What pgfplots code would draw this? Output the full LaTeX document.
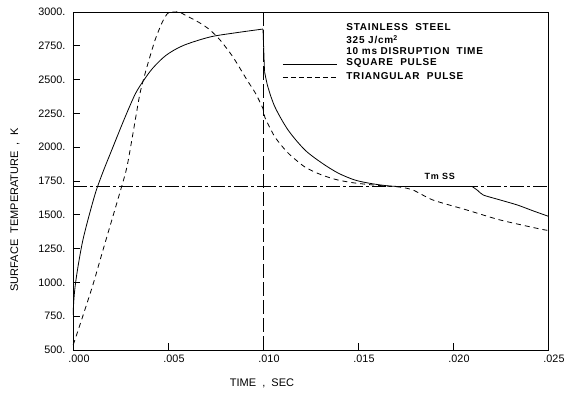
\documentclass[border=0pt]{standalone}
\usepackage{fontspec}
\setmainfont{Liberation Sans}
\newfontfamily\lgd[LetterSpace=8]{Liberation Sans}
\usepackage{pgfplots}
\pgfplotsset{compat=1.18}
\begin{document}
\begin{tikzpicture}
\begin{axis}[
 at={(0,0)}, anchor=south west,
 scale only axis, width=475pt, height=338pt,
 xmin=0, xmax=0.025, ymin=500, ymax=3000,
 xtick={0,0.005,0.01,0.015,0.02,0.025},
 xticklabels={.000,.005,.010,.015,.020,.025},
 scaled x ticks=false,
 ytick={500,750,1000,1250,1500,1750,2000,2250,2500,2750,3000},
 yticklabels={500.,750.,1000.,1250.,1500.,1750.,2000.,2250.,2500.,2750.,3000.},
 tick align=inside,
 xtick pos=bottom, ytick pos=left,
 major tick length=7pt,
 tick style={line width=0.8pt, black},
 tick label style={font=\fontsize{10.8}{12}\selectfont},
 xticklabel style={anchor=north, xshift=6pt, yshift=-1pt},
 yticklabel style={xshift=-4pt},
 axis line style={line width=0.9pt},
 clip=true,
]
% square pulse
\addplot[black, line width=0.8pt, smooth, tension=0.5] coordinates {
(0,760) (0.00005,880) (0.00012,980) (0.00026,1114) (0.0005,1300) (0.0008,1470)
(0.0012,1670) (0.0016,1825) (0.0021,2000) (0.0025,2140) (0.0029,2275)
(0.0033,2400) (0.0037,2490) (0.0042,2585) (0.0049,2680) (0.0058,2752)
(0.0072,2815) (0.0085,2845) (0.0100,2874)
};
\addplot[black, line width=0.8pt] coordinates {(0.0100,2874) (0.01008,2560)};
\addplot[black, line width=0.8pt, smooth, tension=0.5] coordinates {
(0.01008,2560) (0.01026,2445) (0.01063,2297) (0.01132,2127) (0.01221,1979)
(0.0131,1883) (0.01395,1809) (0.01484,1757) (0.01574,1730) (0.01658,1714)
(0.0170,1710)
};
\addplot[black, line width=0.8pt] coordinates {(0.0170,1710) (0.0210,1710)};
\addplot[black, line width=0.8pt, smooth, tension=0.4] coordinates {
(0.0210,1710) (0.0213,1680) (0.0216,1646) (0.0225,1609) (0.0234,1572)
(0.0242,1530) (0.0250,1490)
};
% triangular pulse
\addplot[black, line width=0.8pt, dash pattern=on 5pt off 4pt, smooth, tension=0.4] coordinates {
(0,540) (0.0001,574) (0.001,960) (0.00158,1240) (0.0025,1680) (0.00284,1854)
(0.00316,2105) (0.00353,2401) (0.00389,2593) (0.00432,2793) (0.00468,2919)
(0.00495,2985) (0.0052,3008) (0.0055,3005) (0.0058,2985) (0.00668,2919)
(0.00721,2867) (0.00774,2793) (0.00842,2667) (0.00916,2497) (0.0096,2400)
(0.0100,2285) (0.0101,2220) (0.01063,2075) (0.01132,1957) (0.01221,1853)
(0.0131,1794) (0.01395,1757) (0.01484,1735) (0.0160,1718) (0.0172,1705)
(0.0179,1683) (0.01895,1609) (0.02074,1535) (0.02247,1462) (0.02458,1395)
(0.0250,1385)
};
% Tm line
\addplot[black, line width=0.7pt, dash pattern=on 14pt off 3pt on 3pt off 3pt] coordinates {(0,1710) (0.025,1710)};
% disruption time
\addplot[black, line width=0.9pt, dash pattern=on 14pt off 4pt] coordinates {(0.010,500) (0.010,3000)};
% legend
\addplot[black, line width=0.8pt] coordinates {(0.01105,2612) (0.01389,2612)};
\addplot[black, line width=0.8pt, dash pattern=on 5pt off 3pt] coordinates {(0.01105,2517) (0.01389,2517)};
\node[anchor=west, font=\lgd\bfseries\fontsize{10}{11}\selectfont] at (axis cs:0.0142,2890) {STAINLESS\ \ STEEL};
\node[anchor=west, font=\lgd\bfseries\fontsize{10}{11}\selectfont] at (axis cs:0.0142,2795) {325 J/cm\textsuperscript{2}};
\node[anchor=west, font=\lgd\bfseries\fontsize{10}{11}\selectfont] at (axis cs:0.0142,2710) {10 ms DISRUPTION\ \ TIME};
\node[anchor=west, font=\lgd\bfseries\fontsize{10}{11}\selectfont] at (axis cs:0.0142,2620) {SQUARE\ \ PULSE};
\node[anchor=west, font=\lgd\bfseries\fontsize{10}{11}\selectfont] at (axis cs:0.0142,2525) {TRIANGULAR\ \ PULSE};
\node[font=\lgd\bfseries\fontsize{9}{11}\selectfont] at (axis cs:0.0193,1785) {Tm SS};
\end{axis}
\node[font=\fontsize{11}{13}\selectfont] at (189pt,-33pt) {TIME\ \ ,\ \ SEC};
\node[font=\fontsize{11}{13}\selectfont, rotate=90] at (-58pt,140pt) {SURFACE\ \ TEMPERATURE\ \ ,\ \ K};
\pgfresetboundingbox
\path (-73pt,-49pt) rectangle (493pt,350pt);
\end{tikzpicture}
\end{document}
